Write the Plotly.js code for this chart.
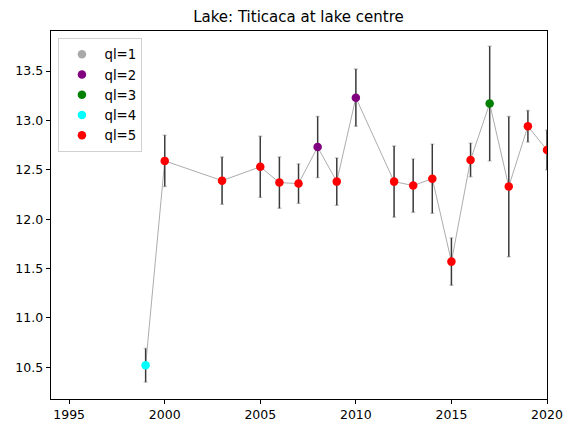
<!DOCTYPE html>
<html>
<head>
<meta charset="utf-8">
<script src="https://cdn.plot.ly/plotly-3.0.1.min.js"></script>
<style>html,body{margin:0;padding:0;background:#fff;}#chart{width:574px;height:433px;}</style>
</head>
<body>
<div id="chart"></div>
<script>
const years = [1999, 2000, 2003, 2005, 2006, 2007, 2008, 2009, 2010, 2012, 2013, 2014, 2015, 2016, 2017, 2018, 2019, 2020];
const values = [10.52, 12.59, 12.39, 12.53, 12.37, 12.36, 12.73, 12.38, 13.23, 12.38, 12.34, 12.41, 11.57, 12.60, 13.17, 12.33, 12.94, 12.70];
const errors = [0.17, 0.26, 0.24, 0.31, 0.26, 0.20, 0.31, 0.24, 0.29, 0.36, 0.27, 0.35, 0.24, 0.17, 0.58, 0.71, 0.16, 0.20];
const quality = [4, 5, 5, 5, 5, 5, 2, 5, 2, 5, 5, 5, 5, 5, 3, 5, 5, 5];
const qlLevels = [1, 2, 3, 4, 5];
const qlColors = ['#a9a9a9', '#800080', '#008000', '#00ffff', '#ff0000'];
const xTicks = [1995, 2000, 2005, 2010, 2015, 2020];
const yTicks = [10.5, 11.0, 11.5, 12.0, 12.5, 13.0, 13.5];
const titleText = 'Lake: Titicaca at lake centre';

const traces = [];
traces.push({
  x: years, y: values, mode: 'lines', type: 'scatter',
  line: {color: '#888888', width: 0.7}, showlegend: false, hoverinfo: 'skip'
});
traces.push({
  x: years, y: values, mode: 'markers', type: 'scatter',
  marker: {color: 'rgba(0,0,0,0)', size: 1},
  error_y: {type: 'data', array: errors, visible: true, color: '#c4c4c4', thickness: 1.4, width: 2},
  showlegend: false, hoverinfo: 'skip'
});
traces.push({
  x: years, y: values, mode: 'markers', type: 'scatter',
  marker: {color: 'rgba(0,0,0,0)', size: 1},
  error_y: {type: 'data', array: errors, visible: true, color: '#3a3a3a', thickness: 1.4, width: 0},
  showlegend: false, hoverinfo: 'skip'
});
qlLevels.forEach((q, i) => {
  const xs = [], ys = [];
  years.forEach((yr, j) => { if (quality[j] === q) { xs.push(yr); ys.push(values[j]); } });
  traces.push({
    x: xs.length ? xs : [null], y: ys.length ? ys : [null],
    mode: 'markers', type: 'scatter', name: 'ql=' + q,
    marker: {color: qlColors[i], size: 8.5}, showlegend: true
  });
});

const layout = {
  width: 574, height: 433,
  margin: {l: 51, r: 27, t: 31, b: 34},
  paper_bgcolor: '#fff', plot_bgcolor: '#fff',
  font: {family: 'DejaVu Sans', size: 12.5, color: '#000'},
  title: {text: titleText, font: {family: 'DejaVu Sans', size: 15, color: '#000'}, x: 0.52, xanchor: 'center', y: 0.962, yanchor: 'middle'},
  xaxis: {
    range: [1994.05, 2020], tickvals: xTicks, ticks: 'outside', ticklen: 4.4, tickwidth: 1, tickcolor: '#000',
    showline: true, linecolor: '#000', linewidth: 1, mirror: true, showgrid: false, zeroline: false,
    tickfont: {family: 'DejaVu Sans', size: 12.5}
  },
  yaxis: {
    range: [10.179, 13.905], tickvals: yTicks, tickformat: '.1f', ticks: 'outside', ticklen: 4.4, tickwidth: 1, tickcolor: '#000',
    showline: true, linecolor: '#000', linewidth: 1, mirror: true, showgrid: false, zeroline: false,
    tickfont: {family: 'DejaVu Sans', size: 12.5}
  },
  legend: {
    x: 0.015, y: 0.981, xanchor: 'left', yanchor: 'top',
    bgcolor: 'rgba(255,255,255,0.8)', bordercolor: '#d0d0d0', borderwidth: 1,
    font: {family: 'DejaVu Sans', size: 13.3}, tracegroupgap: 0, itemwidth: 35
  },
  showlegend: true,
  hovermode: false
};

Plotly.newPlot('chart', traces, layout, {displayModeBar: false, staticPlot: true});
</script>
</body>
</html>
